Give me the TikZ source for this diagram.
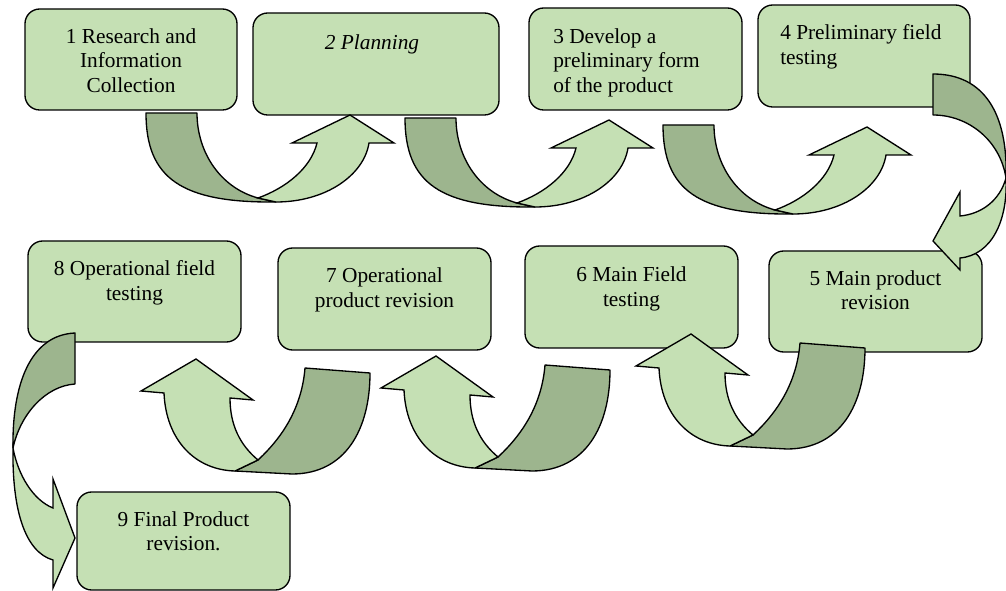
\documentclass[tikz,border=0pt]{standalone}
\usepackage{fontspec}
\setmainfont{Liberation Serif}
\definecolor{lightg}{HTML}{C5E0B4}
\definecolor{darkg}{HTML}{9DB58E}
\tikzset{
  box/.style={draw=black, fill=lightg, line width=1pt, rounded corners=11pt, inner sep=0pt},
  lbl/.style={font=\fontsize{16}{18.4}\selectfont, inner sep=0pt, anchor=north, align=center},
  lblL/.style={lbl, align=left, anchor=north west},
  ribdark/.style={draw=black, fill=darkg, line width=1pt, line join=round},
  riblight/.style={draw=black, fill=lightg, line width=1pt, line join=miter},
  ribR/.pic={
    \filldraw[ribdark] (0,0) .. controls (0,65) and (35,90) .. (130,89) -- (112,85)
      .. controls (75,75) and (51,40) .. (51,0) -- cycle;
    \filldraw[riblight] (112,85) -- (130,89) .. controls (180,89) and (218,62) .. (223,30)
      -- (248,30) -- (204,2) -- (146,30) -- (171,30)
      .. controls (165,55) and (140,75) .. (112,85) -- cycle;
  },
  ribL/.pic={
    \filldraw[ribdark] (109,9) -- (174,14) .. controls (174,71) and (149,115) .. (96,115)
      -- (39,112) -- (62,101) .. controls (89,76) and (106,46) .. (109,9) -- cycle;
    \filldraw[riblight] (62,101) .. controls (44,86) and (34,66) .. (34,39) -- (57,41)
      -- (0,0) -- (-55,32) -- (-32,34) .. controls (-30,81) and (-1,111) .. (39,112)
      -- cycle;
  },
}
\begin{document}
\begin{tikzpicture}[x=0.75pt,y=-0.75pt]
\useasboundingbox (0,0) rectangle (1006,591);
% boxes
\node[box, minimum width=159pt,   minimum height=75.75pt] (b1) at (131,59.5) {};
\node[box, minimum width=184.5pt, minimum height=76.5pt]  (b2) at (376,64) {};
\node[box, minimum width=159.75pt,minimum height=76.5pt]  (b3) at (635.5,59) {};
\node[box, minimum width=159pt,   minimum height=76.5pt]  (b4) at (864,56) {};
\node[box, minimum width=159.75pt,minimum height=75.75pt] (b5) at (875.5,301.5) {};
\node[box, minimum width=159.75pt,minimum height=76.5pt]  (b6) at (631.5,297) {};
\node[box, minimum width=159.75pt,minimum height=76.5pt]  (b7) at (384.5,299) {};
\node[box, minimum width=159.75pt,minimum height=75.75pt] (b8) at (134.5,291.5) {};
\node[box, minimum width=159.75pt,minimum height=73.5pt]  (b9) at (183.5,541) {};
% texts
\node[lbl]  (t1) at (131,25.8)   {\strut 1 Research and\\Information\\Collection};
\node[lbl]  (t2) at (372,31.8)   {\strut\textit{2 Planning}};
\node[lblL] (t3) at (553,25.8)   {\strut 3 Develop a\\preliminary form\\of the product};
\node[lblL] (t4) at (780,22.3)   {\strut 4 Preliminary field\\testing};
\node[lbl]  (t5) at (875.5,267.8){\strut 5 Main product\\revision};
\node[lbl]  (t6) at (631.5,264.3){\strut 6 Main Field\\testing};
\node[lbl]  (t7) at (384.5,265.3){\strut 7 Operational\\product revision};
\node[lbl]  (t8) at (134.5,258.3){\strut 8 Operational field\\testing};
\node[lbl]  (t9) at (183.5,508.8){\strut 9 Final Product\\revision.};
% bending arrows, top row
\pic at (146,113) {ribR};
\pic at (405,118) {ribR};
\pic at (663,125) {ribR};
% right side 4 -> 5
\filldraw[ribdark] (933,74) .. controls (985,74) and (1008,115) .. (1006,178)
  .. controls (1000,140) and (968,115) .. (933,115) -- cycle;
\filldraw[riblight] (1006,178) .. controls (1000,200) and (982,214) .. (960,216)
  -- (960,192) -- (933,241) -- (960,270) -- (960,258)
  .. controls (992,255) and (1008,220) .. (1006,178) -- cycle;
% bottom row
\pic at (691,334) {ribL};
\pic at (436,356) {ribL};
\pic at (196,359) {ribL};
% left side 8 -> 9
\filldraw[ribdark] (75,333) .. controls (30,335) and (12,385) .. (13,448)
  .. controls (20,415) and (45,386) .. (75,384) -- cycle;
\filldraw[riblight] (13,448) .. controls (18,475) and (33,500) .. (53,508)
  -- (53,479) -- (75,538) -- (53,588) -- (53,560)
  .. controls (25,552) and (12,510) .. (13,448) -- cycle;
\end{tikzpicture}
\end{document}
